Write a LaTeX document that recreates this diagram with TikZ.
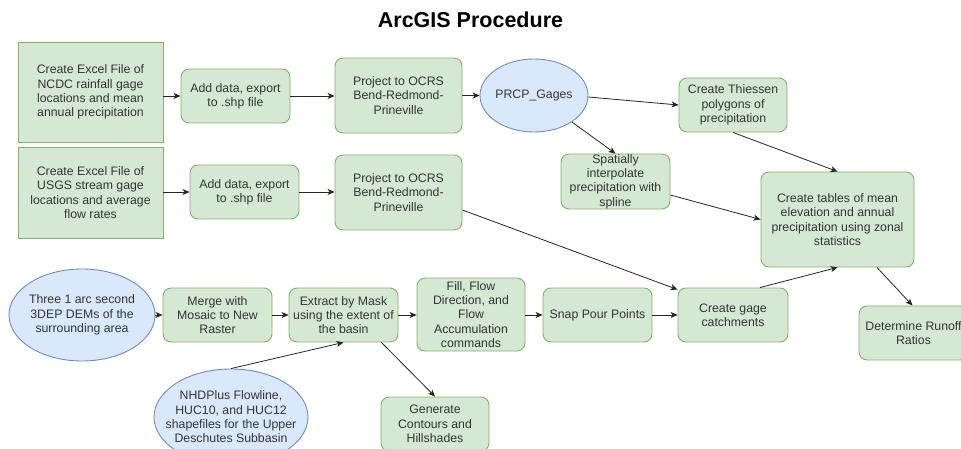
\documentclass[tikz,border=0pt]{standalone}
\usepackage{fontspec}
\setmainfont{Liberation Sans}
\usetikzlibrary{arrows.meta,shapes.geometric,calc}
\definecolor{gfill}{HTML}{D5E8D4}
\definecolor{gline}{HTML}{82B366}
\definecolor{bfill}{HTML}{DAE8FC}
\definecolor{bline}{HTML}{6C8EBF}
\definecolor{txt}{HTML}{333333}
\tikzset{
  base/.style={align=center, text=txt, font=\fontsize{12.3}{14.3}\selectfont, inner sep=0pt, line width=0.9pt},
  sqbox/.style={base, draw=gline, fill=gfill, rectangle},
  rbox/.style={base, draw=gline, fill=gfill, rectangle, rounded corners=8pt},
  oval/.style={base, draw=bline, fill=bfill, ellipse},
  lbl/.style={base, draw=none, fill=none},
  conn/.style={draw=black!85, line width=0.8pt, -{Stealth[length=7pt,width=6pt,inset=2pt]}}
}
\begin{document}
\begin{tikzpicture}[x=1pt,y=-1pt]
\clip (0,0) rectangle (961,449);
\fill[white] (0,0) rectangle (961,449);
\node[font=\fontsize{21.5}{25}\selectfont\bfseries, text=black] (title) at (470.5,20) {ArcGIS Procedure};

% row 1
\node[sqbox, minimum width=145pt, minimum height=100pt] (A1) at (90.5,92) {Create Excel File of\\NCDC rainfall gage\\locations and mean\\annual precipitation};
\node[rbox, minimum width=109pt, minimum height=54pt] (A2) at (235.5,96) {Add data, export\\to .shp file};
\node[rbox, minimum width=127pt, minimum height=75pt] (A3) at (398.5,95.5) {Project to OCRS\\Bend-Redmond-\\Prineville};
\node[oval, minimum width=108pt, minimum height=73pt] (E1) at (534,95.5) {};
\node[lbl] (E1t) at (E1.center) {PRCP\_Gages};
\node[rbox, minimum width=108pt, minimum height=54pt] (Th) at (733,105) {Create Thiessen\\polygons of\\precipitation};
\node[rbox, minimum width=109pt, minimum height=55pt] (Sp) at (615.5,181.5) {Spatially\\interpolate\\precipitation with\\spline};
\node[rbox, minimum width=153pt, minimum height=95pt] (CT) at (837.5,219.5) {Create tables of mean\\elevation and annual\\precipitation using zonal\\statistics};

% row 2
\node[sqbox, minimum width=145pt, minimum height=91pt] (B1) at (90.5,192.5) {Create Excel File of\\USGS stream gage\\locations and average\\flow rates};
\node[rbox, minimum width=109pt, minimum height=54pt] (B2) at (244.5,192) {Add data, export\\to .shp file};
\node[rbox, minimum width=127pt, minimum height=75pt] (B3) at (398.5,192.5) {Project to OCRS\\Bend-Redmond-\\Prineville};

% row 3
\node[oval, minimum width=146pt, minimum height=92pt] (C1) at (82,315) {};
\node[lbl] (C1t) at (C1.center) {Three 1 arc second\\3DEP DEMs of the\\surrounding area};
\node[rbox, minimum width=109pt, minimum height=54pt] (C2) at (217.5,315) {Merge with\\Mosaic to New\\Raster};
\node[rbox, minimum width=109pt, minimum height=54pt] (C3) at (343.5,315) {Extract by Mask\\using the extent of\\the basin};
\node[rbox, minimum width=108pt, minimum height=73pt] (C4) at (471,314.5) {Fill, Flow\\Direction, and\\Flow\\Accumulation\\commands};
\node[rbox, minimum width=109pt, minimum height=54pt] (C5) at (597.5,315) {Snap Pour Points};
\node[rbox, minimum width=110pt, minimum height=54pt] (C6) at (733,315) {Create gage\\catchments};
\node[rbox, minimum width=109pt, minimum height=54pt] (D) at (913.5,333) {Determine Runoff\\Ratios};
\node[rbox, minimum width=108pt, minimum height=54pt] (G) at (435,424) {Generate\\Contours and\\Hillshades};
\node[oval, minimum width=154pt, minimum height=96pt] (N) at (231,417) {};
\node[lbl] (Nt) at (N.center) {NHDPlus Flowline,\\HUC10, and HUC12\\shapefiles for the Upper\\Deschutes Subbasin};

% connectors
\draw[conn] (A1.east |- A2.west) -- (A2.west);
\draw[conn] (A2.east) -- (A3.west |- A2.east);
\draw[conn] (A3.east |- E1.west) -- (E1.west);
\draw[conn] ([yshift=-1.5pt]E1.east) -- (Th.west);
\draw[conn] (E1.-35) -- (Sp.north);
\draw[conn] (Th.south) -- (CT.north);
\draw[conn] ([yshift=-13.5pt]Sp.east) -- (CT.west);
\draw[conn] (B1.east |- B2.west) -- (B2.west);
\draw[conn] (B2.east) -- (B3.west |- B2.east);
\draw[conn] ([yshift=-17.5pt]B3.east) -- ([yshift=-2pt]C6.north west);
\draw[conn] (C1.east) -- (C2.west);
\draw[conn] (C2.east) -- (C3.west);
\draw[conn] (C3.east) -- (C4.west |- C3.east);
\draw[conn] (C4.east |- C5.west) -- (C5.west);
\draw[conn] (C5.east) -- (C6.west);
\draw[conn] (N.north) -- (C3.south);
\draw[conn] ([xshift=-17pt]C3.south east) -- (G.north);
\draw[conn] ([xshift=27pt]C6.north) -- (CT.south);
\draw[conn] ([xshift=39.5pt]CT.south) -- ([xshift=-1pt]D.north);
\end{tikzpicture}
\end{document}
